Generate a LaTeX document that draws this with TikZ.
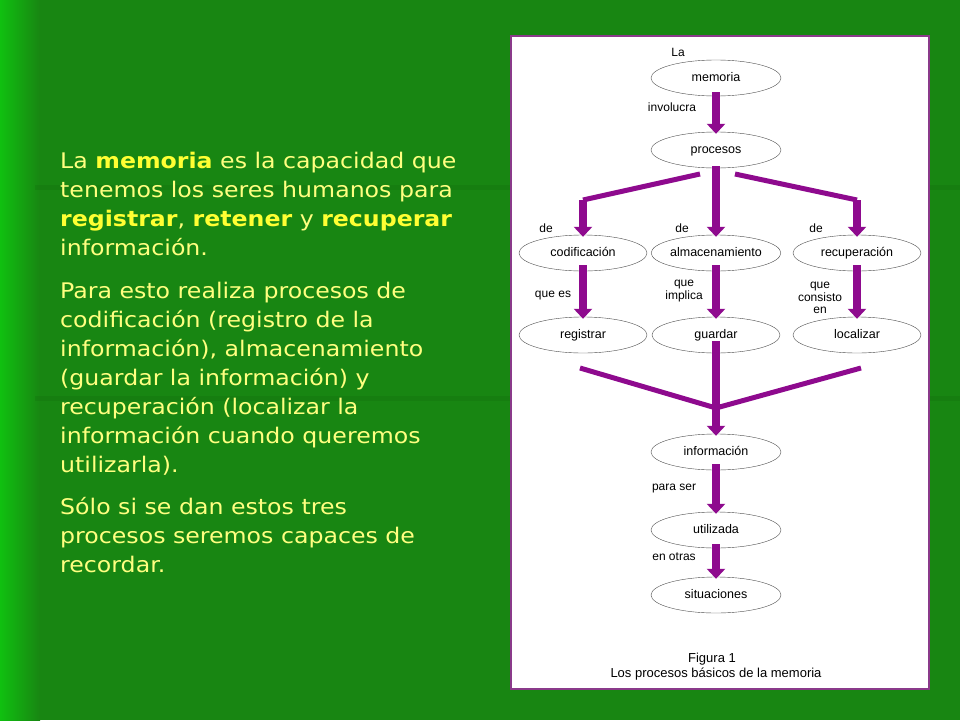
\documentclass[tikz,border=0pt]{standalone}
\usepackage{fontspec}
\setmainfont{DejaVu Sans}[FakeStretch=1.1]
\newfontfamily\figfont{Liberation Sans}
\usetikzlibrary{arrows.meta,shapes.geometric}
\definecolor{bggreen}{HTML}{188612}
\definecolor{litegreen}{HTML}{10C010}
\definecolor{txtyel}{HTML}{FFFF80}
\definecolor{boldyel}{HTML}{FFFF33}
\definecolor{arrpurple}{HTML}{8E0A8E}
\definecolor{frame}{HTML}{8A3A8A}
\begin{document}
\begin{tikzpicture}[x=1pt,y=-1pt,
  txt/.style={anchor=base west,text=txtyel,font=\fontsize{21.5}{25}\selectfont,inner sep=0},
  ell/.style={draw=black!70,ellipse,minimum width=130pt,minimum height=36pt,inner sep=0,text height=9pt,text depth=3pt,font=\figfont\fontsize{12.5}{13}\selectfont},
  lab/.style={font=\figfont\fontsize{12}{12.5}\selectfont,inner sep=0,align=center},
  fat/.style={draw=arrpurple,line width=8pt,-{Triangle[width=18pt,length=10pt]}},
  thin/.style={draw=arrpurple,line width=5pt}]
\useasboundingbox (0,0) rectangle (960,720);
\fill[bggreen] (0,0) rectangle (960,720);
\shade[left color=litegreen,right color=bggreen] (0,0) rectangle (40,720);
\fill[black,opacity=0.06] (35,185) rectangle (960,190);
\fill[black,opacity=0.06] (35,396) rectangle (960,401);
% left text
\node[txt] (t1) at (60,168) {La \textbf{\color{boldyel}memoria} es la capacidad que};
\node[txt] (t2) at (60,197) {tenemos los seres humanos para};
\node[txt] (t3) at (60,226) {\textbf{\color{boldyel}registrar}, \textbf{\color{boldyel}retener} y \textbf{\color{boldyel}recuperar}};
\node[txt] (t4) at (60,255) {información.};
\node[txt] (t5) at (60,298) {Para esto realiza procesos de};
\node[txt] (t6) at (60,327) {codificación (registro de la};
\node[txt] (t7) at (60,356) {información), almacenamiento};
\node[txt] (t8) at (60,385) {(guardar la información) y};
\node[txt] (t9) at (60,414) {recuperación (localizar la};
\node[txt] (t10) at (60,443) {información cuando queremos};
\node[txt] (t11) at (60,472) {utilizarla).};
\node[txt] (t12) at (60,514) {Sólo si se dan estos tres};
\node[txt] (t13) at (60,543) {procesos seremos capaces de};
\node[txt] (t14) at (60,572) {recordar.};
% panel
\fill[white] (511,36) rectangle (929,689);
\draw[frame,line width=1.5pt] (511,36) rectangle (929,689);
% nodes
\node[ell] (mem) at (716,78) {memoria};
\node[ell] (pro) at (716,150) {procesos};
\node[ell,minimum width=128pt] (cod) at (583,253) {codificación};
\node[ell,minimum width=128pt] (alm) at (716,253) {almacenamiento};
\node[ell,minimum width=128pt] (rec) at (857,253) {recuperación};
\node[ell,minimum width=128pt] (reg) at (583,335) {registrar};
\node[ell,minimum width=128pt] (gua) at (716,335) {guardar};
\node[ell,minimum width=128pt] (loc) at (857,335) {localizar};
\node[ell] (inf) at (716,452) {información};
\node[ell] (uti) at (716,530) {utilizada};
\node[ell] (sit) at (716,595) {situaciones};
% arrows
\draw[fat] ([yshift=4pt]mem.south) -- ([yshift=-2pt]pro.north);
\coordinate (p1) at (700,174); \coordinate (p2) at (583,200);
\coordinate (p3) at (735,174); \coordinate (p4) at (857,200);
\draw[thin] (p1) -- (p2);
\draw[thin] (p3) -- (p4);
\draw[fat] (p2) -- ([yshift=-2pt]cod.north);
\draw[fat] (p4) -- ([yshift=-2pt]rec.north);
\draw[fat] ([yshift=2pt]pro.south) -- ([yshift=-2pt]alm.north);
\draw[fat] ([yshift=6pt]cod.south) -- ([yshift=-2pt]reg.north);
\draw[fat] ([yshift=6pt]alm.south) -- ([yshift=-2pt]gua.north);
\draw[fat] ([yshift=6pt]rec.south) -- ([yshift=-2pt]loc.north);
\coordinate (m1) at (580,368); \coordinate (m2) at (861,368);
\coordinate (mc) at (716,408);
\draw[thin] (m1) -- (mc);
\draw[thin] (m2) -- (mc);
\draw[fat] ([yshift=12pt]gua.south) -- ([yshift=-2pt]inf.north);
\draw[fat] ([yshift=6pt]inf.south) -- ([yshift=-2pt]uti.north);
\draw[fat] ([yshift=4pt]uti.south) -- ([yshift=-2pt]sit.north);
% labels
\node[lab] (l1) at (678,52) {La};
\node[lab] (l2) at (672,107) {involucra};
\node[lab] (l3) at (546,228) {de};
\node[lab] (l4) at (682,228) {de};
\node[lab] (l5) at (816,228) {de};
\node[lab] (l6) at (553,296) {que es};
\node[lab] (l7) at (684,291) {que\\implica};
\node[lab] (l8) at (820,298) {que\\consisto\\en};
\node[lab] (l9) at (674,489) {para ser};
\node[lab] (l10) at (674,557) {en otras};
\node[lab,font=\figfont\fontsize{13}{13}\selectfont] (f1) at (712,659) {Figura 1};
\node[lab,font=\figfont\fontsize{13}{13}\selectfont] (f2) at (716,674) {Los procesos básicos de la memoria};
\end{tikzpicture}
\end{document}
